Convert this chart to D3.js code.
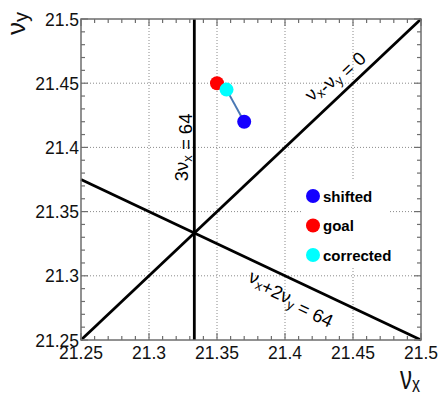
<!DOCTYPE html>
<html>
<head>
<meta charset="utf-8">
<script src="https://d3js.org/d3.v7.min.js"></script>
<style>
    body { margin: 0; background: #fff; }
    svg { display: block; font-family: "Liberation Sans", Arial, sans-serif; }
    .grid line { stroke: #8a8a8a; stroke-width: 1; stroke-dasharray: 1,2; }
    .tick-label { font-size: 17.5px; fill: #111; }
    .res-line { stroke: #000; stroke-width: 2.8; fill: none; }
    .res-label { font-size: 18.5px; fill: #000; }
    .legend text { font-size: 15px; font-weight: bold; fill: #000; }
</style>
</head>
<body>
<svg id="chart" width="440" height="396"></svg>
<script>
    // tunes: shifted, goal, corrected
    const pointNames = ["shifted", "goal", "corrected"];
    const pointNux = [21.37, 21.35, 21.357];
    const pointNuy = [21.42, 21.45, 21.445];
    const pointColors = ["#1500ff", "#ff0000", "#00ffff"];
    const drawOrder = [0, 1, 2];

    // resonance lines (end points in tune space)
    const resNames = ["3ν_x = 64", "ν_x-ν_y = 0", "ν_x+2ν_y = 64"];
    const resX1 = [21.33333, 21.25, 21.25];
    const resY1 = [21.25, 21.25, 21.375];
    const resX2 = [21.33333, 21.5, 21.5];
    const resY2 = [21.5, 21.5, 21.25];

    const majorTicks = [21.25, 21.3, 21.35, 21.4, 21.45, 21.5];
    const tickLabels = ["21.25", "21.3", "21.35", "21.4", "21.45", "21.5"];

    const margin = { left: 81, top: 19, right: 19, bottom: 56 };
    const W = 440, H = 396;
    const w = W - margin.left - margin.right,
          h = H - margin.top - margin.bottom;

    const svg = d3.select("#chart");
    const g = svg.append("g").attr("transform", `translate(${margin.left},${margin.top})`);

    const x = d3.scaleLinear().domain([21.25, 21.5]).range([0, w]);
    const y = d3.scaleLinear().domain([21.25, 21.5]).range([h, 0]);

    // dotted grid (inner major ticks only)
    const inner = majorTicks.slice(1, -1);
    const grid = g.append("g").attr("class", "grid");
    grid.selectAll(".gx").data(inner).enter().append("line")
        .attr("x1", d => x(d)).attr("x2", d => x(d)).attr("y1", 0).attr("y2", h);
    grid.selectAll(".gy").data(inner).enter().append("line")
        .attr("y1", d => y(d)).attr("y2", d => y(d)).attr("x1", 0).attr("x2", w);

    // resonance lines
    g.selectAll(".res-line").data(resNames).enter().append("line")
        .attr("class", "res-line")
        .attr("x1", (d, i) => x(resX1[i])).attr("y1", (d, i) => y(resY1[i]))
        .attr("x2", (d, i) => x(resX2[i])).attr("y2", (d, i) => y(resY2[i]));

    // legend box (white, hides grid)
    const leg = g.append("g").attr("class", "legend").attr("transform", "translate(221,161)");
    leg.append("rect").attr("width", 88).attr("height", 88).attr("fill", "#fff");
    pointNames.forEach((n, i) => {
        const row = leg.append("g").attr("transform", `translate(0,${16 + i * 29.5})`);
        row.append("circle").attr("cx", 11).attr("cy", 0).attr("r", 7).attr("fill", pointColors[i]);
        row.append("text").attr("x", 21).attr("y", 5.5).text(n);
    });

    // correction arrow shifted -> corrected
    g.append("line")
        .attr("x1", x(pointNux[0])).attr("y1", y(pointNuy[0]))
        .attr("x2", x(pointNux[2])).attr("y2", y(pointNuy[2]))
        .attr("stroke", "#4a78b4").attr("stroke-width", 2);

    g.selectAll(".pt").data(drawOrder).enter().append("circle")
        .attr("class", "pt")
        .attr("cx", i => x(pointNux[i])).attr("cy", i => y(pointNuy[i]))
        .attr("r", 7).attr("fill", i => pointColors[i]);

    // frame + ticks on all four sides, pointing inward
    g.append("rect").attr("width", w).attr("height", h)
        .attr("fill", "none").attr("stroke", "#6e6e6e").attr("stroke-width", 1.5);

    const minor = d3.range(0, 26).map(k => 21.25 + k * 0.01);
    const tk = g.append("g").attr("stroke", "#6e6e6e").attr("stroke-width", 1.2);
    minor.forEach((v, k) => {
        const len = k % 5 === 0 ? 7 : 4;
        tk.append("line").attr("x1", x(v)).attr("x2", x(v)).attr("y1", h).attr("y2", h - len);
        tk.append("line").attr("x1", x(v)).attr("x2", x(v)).attr("y1", 0).attr("y2", len);
        tk.append("line").attr("y1", y(v)).attr("y2", y(v)).attr("x1", 0).attr("x2", len);
        tk.append("line").attr("y1", y(v)).attr("y2", y(v)).attr("x1", w).attr("x2", w - len);
    });

    // tick labels
    g.selectAll(".xl").data(majorTicks).enter().append("text")
        .attr("class", "tick-label").attr("text-anchor", "middle")
        .attr("x", d => x(d)).attr("y", h + 19)
        .text((d, i) => tickLabels[i]);
    g.selectAll(".yl").data(majorTicks).enter().append("text")
        .attr("class", "tick-label").attr("text-anchor", "end")
        .attr("x", -2).attr("y", d => y(d) + 6.5)
        .text((d, i) => tickLabels[i]);

    // label helper with subscripts: "_x" -> subscript
    function richText(sel, str, size) {
        const parts = str.split(/(_[a-z])/);
        parts.forEach(p => {
            if (!p) return;
            if (p[0] === "_") {
                sel.append("tspan").attr("dy", size * 0.2).attr("font-size", size * 0.7).text(p[1]);
                sel.append("tspan").attr("dy", -size * 0.2).text("");
            } else {
                sel.append("tspan").text(p);
            }
        });
    }

    // resonance labels, placed alongside their lines (screen px, inside plot group)
    const lab1 = g.append("text").attr("class", "res-label").attr("text-anchor", "middle")
        .attr("transform", `translate(${x(21.3333) - 6},${y(21.4)}) rotate(-90)`);
    richText(lab1, resNames[0], 18.5);
    const lab2 = g.append("text").attr("class", "res-label").attr("text-anchor", "middle")
        .attr("transform", `translate(${x(21.4456) - 10},${y(21.4456) - 10.5}) rotate(-43.4)`);
    richText(lab2, resNames[1], 18.5);
    const lab3 = g.append("text").attr("class", "res-label").attr("text-anchor", "middle")
        .attr("transform", `translate(${x(21.4051) - 2},${y(21.2974) + 22}) rotate(25.3)`);
    richText(lab3, resNames[2], 18.5);

    // axis titles
    const tx = svg.append("text").attr("text-anchor", "end")
        .attr("transform", "translate(420,389) scale(0.8,1.1)").attr("fill", "#111");
    tx.append("tspan").attr("font-size", 30).text("ν");
    tx.append("tspan").attr("dy", 3).attr("font-size", 20).text("x");
    const ty = svg.append("text").attr("text-anchor", "end")
        .attr("transform", "translate(25,12) rotate(-90)").attr("font-size", 26).attr("fill", "#111");
    ty.append("tspan").text("ν");
    ty.append("tspan").attr("dy", 3).attr("font-size", 20).text("y");
</script>
</body>
</html>
